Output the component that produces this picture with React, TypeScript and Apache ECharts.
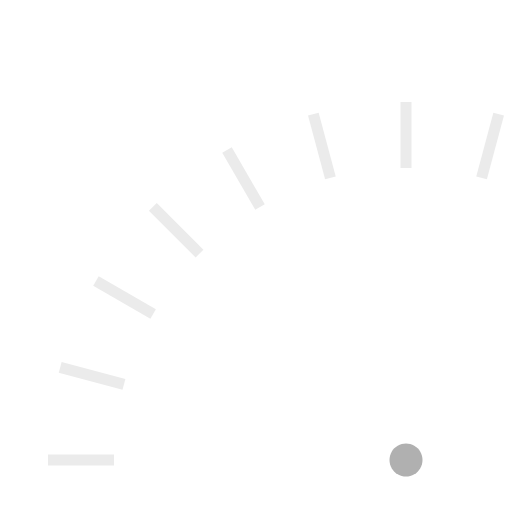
import { useEffect, useRef } from 'react';
import * as echarts from 'echarts';

// gauge scale: 0..180 over a half circle, one split every 15 units
const scaleMin = 0;
const scaleMax = 180;
const splitCount = 12;
const gaugeValues = [0];

export default function App() {
  const ref = useRef<HTMLDivElement>(null);

  useEffect(() => {
    document.body.style.margin = '0';
    if (!ref.current) return;
    const chart = echarts.init(ref.current, undefined, { renderer: 'svg' });

    chart.setOption({
      animation: false,
      series: [
        {
          type: 'gauge',
          center: [406, 460],
          radius: 358,
          startAngle: 180,
          endAngle: 0,
          min: scaleMin,
          max: scaleMax,
          splitNumber: splitCount,
          axisLine: { show: false, lineStyle: { width: 0 } },
          progress: { show: false },
          pointer: { show: false },
          anchor: {
            show: true,
            showAbove: true,
            size: 33,
            itemStyle: { color: '#B0B0B0' },
          },
          splitLine: {
            show: true,
            distance: 0,
            length: 66,
            lineStyle: { color: '#EBEBEB', width: 11, cap: 'butt' },
          },
          axisTick: { show: false },
          axisLabel: { show: false },
          title: { show: false },
          detail: { show: false },
          data: gaugeValues.map((v) => ({ value: v })),
        },
      ],
    });

    return () => chart.dispose();
  }, []);

  return <div ref={ref} style={{ width: 512, height: 512 }} />;
}
